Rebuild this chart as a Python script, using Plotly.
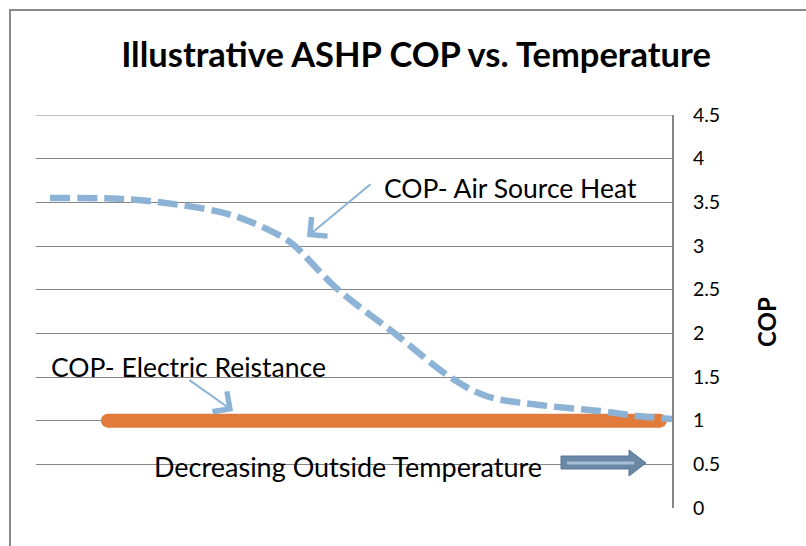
import plotly.graph_objects as go

# ---- data ----
ashp_position = [2.2, 13.0, 19.5, 28.9, 33.6, 38.8, 40.7, 47.5, 56.4, 65.1, 70.9, 79.2, 88.7, 95.0, 100.0]
ashp_cop = [3.55, 3.54, 3.50, 3.39, 3.28, 3.10, 3.00, 2.50, 2.00, 1.50, 1.28, 1.18, 1.11, 1.05, 1.02]
elec_position = [11.3, 98.1]
elec_cop = [1.0, 1.0]
y_ticks = [0, 0.5, 1, 1.5, 2, 2.5, 3, 3.5, 4, 4.5]
y_labels = ["0", "0.5", "1", "1.5", "2", "2.5", "3", "3.5", "4", "4.5"]

W, H = 806, 546
ML, MR, MT, MB = 36, 134, 115, 38
PW, PH = W - ML - MR, H - MT - MB
FONT = "Lato"


def px(xp):
    return (xp - ML) / PW


def py(yp):
    return (H - MB - yp) / PH


fig = go.Figure()
fig.add_trace(go.Scatter(
    x=elec_position, y=elec_cop, mode="lines+markers",
    line=dict(color="#E07B3C", width=14),
    marker=dict(color="#E07B3C", size=14),
    hoverinfo="skip", showlegend=False))
fig.add_trace(go.Scatter(
    x=ashp_position, y=ashp_cop, mode="lines",
    line=dict(color="#8CB3D5", width=6.5, dash="20px,7px", shape="spline", smoothing=1.0),
    hoverinfo="skip", showlegend=False))

shapes = [
    # chart-area border
    dict(type="rect", xref="paper", yref="paper", x0=px(10), x1=px(812), y0=py(10), y1=py(552),
         line=dict(color="#8A8A8A", width=2), layer="below"),
    # top gridline (4.5)
    dict(type="line", xref="paper", yref="y", x0=0, x1=1, y0=4.5, y1=4.5,
         line=dict(color="#868686", width=1), layer="below"),
    # block arrow
    dict(type="path", xref="paper", yref="paper",
         path=(f"M{px(561)},{py(456)} L{px(629)},{py(456)} L{px(629)},{py(450)} L{px(646)},{py(463)} "
               f"L{px(629)},{py(476)} L{px(629)},{py(469)} L{px(561)},{py(469)} Z"),
         fillcolor="#6A88A6", line=dict(color="#56779A", width=1)),
    dict(type="line", xref="paper", yref="paper", x0=px(567), x1=px(634), y0=py(463), y1=py(463),
         line=dict(color="#A7BFD8", width=3)),
]

TXT = 26.5
annotations = [
    dict(text="COP- Air Source Heat", xref="paper", yref="paper", x=px(382), y=py(188),
         xanchor="left", yanchor="middle", showarrow=False, font=dict(family=FONT, size=TXT, color="#000")),
    dict(text="", xref="paper", yref="paper", x=px(307), y=py(237), ax=372 - 307, ay=183 - 237,
         showarrow=True, arrowhead=4, arrowsize=2.4, arrowwidth=2, arrowcolor="#8CB3D5"),
    dict(text="COP- Electric Reistance", xref="paper", yref="paper", x=px(49), y=py(367),
         xanchor="left", yanchor="middle", showarrow=False, font=dict(family=FONT, size=TXT, color="#000")),
    dict(text="", xref="paper", yref="paper", x=px(233), y=py(411), ax=188 - 233, ay=379 - 411,
         showarrow=True, arrowhead=4, arrowsize=2.4, arrowwidth=2, arrowcolor="#8CB3D5"),
    dict(text="Decreasing Outside Temperature", xref="paper", yref="paper", x=px(152), y=py(466),
         xanchor="left", yanchor="middle", showarrow=False, font=dict(family=FONT, size=27, color="#000")),
    dict(text="<b>COP</b>", xref="paper", yref="paper", x=px(766), y=py(322), textangle=-90,
         xanchor="center", yanchor="middle", showarrow=False, font=dict(family=FONT, size=24, color="#000")),
]

fig.update_layout(
    width=W, height=H, margin=dict(l=ML, r=MR, t=MT, b=MB),
    paper_bgcolor="white", plot_bgcolor="white",
    title=dict(text="<b>Illustrative ASHP COP vs. Temperature</b>", xref="container", yref="container",
               x=416 / W, y=1 - 55 / H, xanchor="center", yanchor="middle",
               font=dict(family=FONT, size=34.5, color="#000")),
    xaxis=dict(range=[0, 100], visible=False, fixedrange=True),
    yaxis=dict(range=[0, 4.5], side="right", tickvals=y_ticks, ticktext=y_labels,
               showgrid=True, gridcolor="#868686", gridwidth=1,
               showline=True, linecolor="#868686", linewidth=2, mirror=False,
               ticks="", ticklabelstandoff=15, zeroline=False,
               tickfont=dict(family=FONT, size=19.5, color="#000"), fixedrange=True),
    shapes=shapes, annotations=annotations,
)

fig.write_html("out.html", config={"displayModeBar": False},
               post_script="document.body.style.margin='0';document.body.style.overflow='hidden';")
